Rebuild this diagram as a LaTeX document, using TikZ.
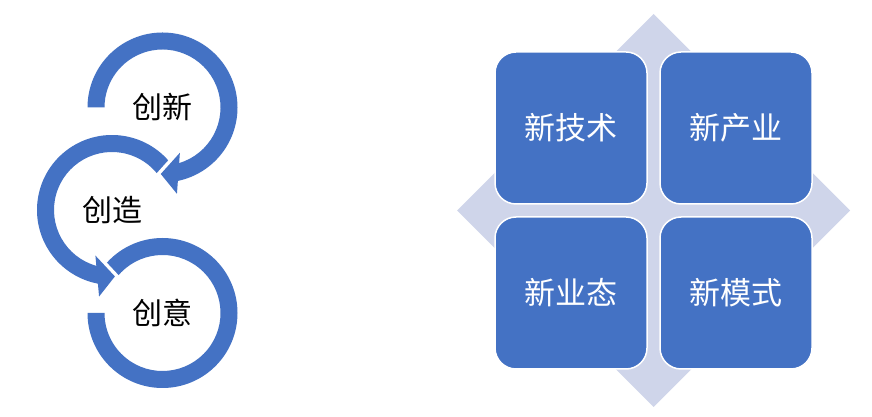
\documentclass[tikz,border=0pt]{standalone}
\usepackage{fontspec}
\newfontfamily\cjk{Noto Sans CJK SC}
\definecolor{ablue}{HTML}{4472C4}
\definecolor{alight}{HTML}{CFD5EA}
\begin{document}
\begin{tikzpicture}[x=1pt,y=1pt,
  band/.style={fill=ablue, preaction={draw=white, line width=7pt, line join=miter}},
  lbl/.style={font=\cjk\fontsize{30}{32}\selectfont, text=black, inner sep=0pt},
  box/.style={fill=ablue, draw=white, line width=1.5pt, rounded corners=21pt,
    minimum width=152pt, minimum height=152pt, inner sep=0pt},
  blbl/.style={font=\cjk\fontsize{31}{33}\selectfont, text=white}]
\useasboundingbox (0,0) rectangle (872,417);
\coordinate (C1) at (162.5,309.5);
\coordinate (C2) at (112,207);
\coordinate (C3) at (162.5,104);
% bottom ring
\begin{scope}[shift={(C3)}]
\path[band] (180:75) arc[start angle=180,end angle=501,radius=75]
  -- (501:58) arc[start angle=501,end angle=180,radius=58] -- cycle;
\end{scope}
% middle ring with arrow
\begin{scope}[shift={(C2)}]
\path[band] (38:75) arc[start angle=38,end angle=259.18,radius=75]
  -- (261.5:87.5) -- (272.5:66.5) -- (250:48.5) -- (254.33:58)
  arc[start angle=254.33,end angle=38,radius=58] -- cycle;
\end{scope}
% top ring with arrow
\begin{scope}[shift={(C1)}]
\path[band] (180:75) arc[start angle=180,end angle=-78.18,radius=75]
  -- (-80.5:87.5) -- (-91.5:66.5) -- (-69:48.5) -- (-73.33:58)
  arc[start angle=-73.33,end angle=180,radius=58] -- cycle;
\end{scope}
\node[lbl] (t1) at (C1) {创新};
\node[lbl] (t2) at (C2) {创造};
\node[lbl] (t3) at (C3) {创意};
% right part
\fill[alight] (653.5,403) -- (850,206.5) -- (653.5,10) -- (457,206.5) -- cycle;
\node[box, blbl] (b1) at (571,289) {新技术};
\node[box, blbl] (b2) at (736,289) {新产业};
\node[box, blbl] (b3) at (571,124) {新业态};
\node[box, blbl] (b4) at (736,124) {新模式};
\end{tikzpicture}
\end{document}
